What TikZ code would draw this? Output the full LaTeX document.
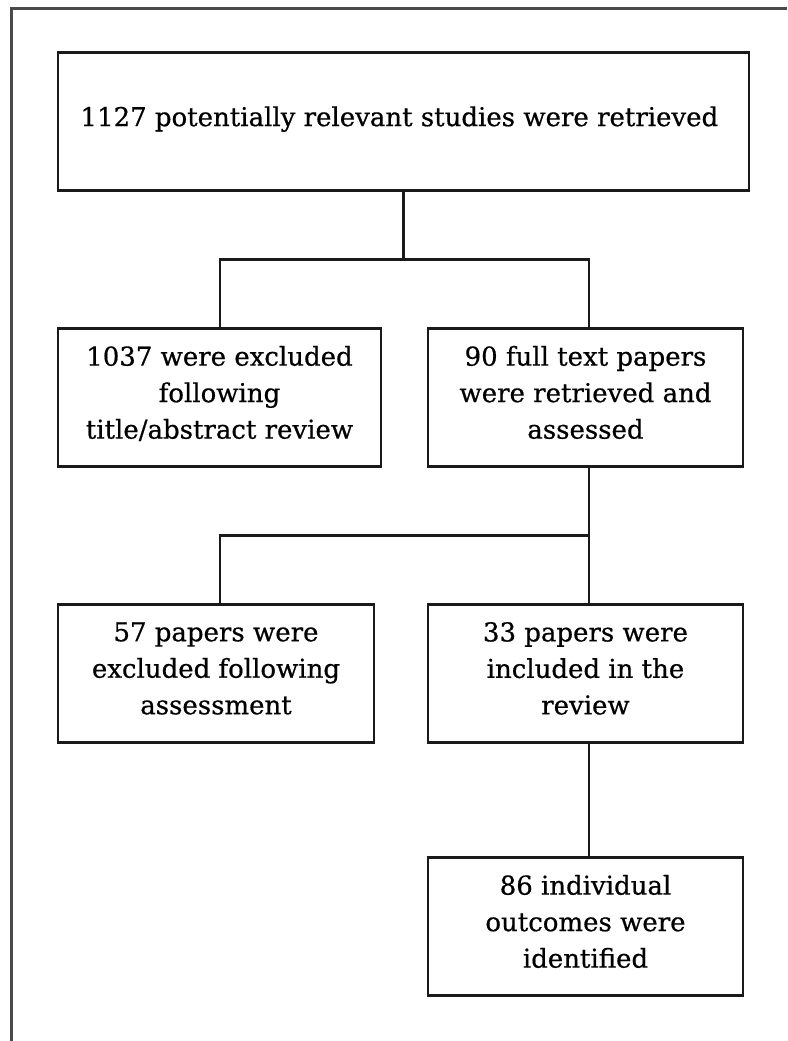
\documentclass[tikz,border=0pt]{standalone}
\usepackage{fontspec}
\setmainfont{DejaVu Serif}[UprightFeatures={FakeBold=0.6}]
\usepackage{xcolor}
\usetikzlibrary{positioning}
\definecolor{framegray}{HTML}{4A4A4A}
\definecolor{boxstroke}{HTML}{1A1A1A}
\tikzset{
  stage/.style={
    rectangle,
    draw=boxstroke,
    line width=2.4pt,
    outer sep=0pt,
    minimum height=138pt,
    inner sep=0pt,
    text depth=10.5pt,
    align=center,
    font=\fontsize{26pt}{36.5pt}\selectfont
  },
  link/.style={line width=2.4pt,draw=boxstroke},
  pageframe/.style={line width=3pt,draw=framegray}
}
\begin{document}
\begin{tikzpicture}
  \useasboundingbox (0,0) rectangle (787pt,-1041pt);
  \draw[pageframe] (11pt,-1041pt) -- (11pt,-9pt) -- (787pt,-9pt);

  \node[stage, minimum width=691pt] (retrieved) at (403.5pt,-121.5pt) {
    1127 potentially relevant studies were retrieved
  };

  \node[stage, minimum width=323pt, below=138pt of retrieved.south west, anchor=north west] (titleExcl) {
    1037 were excluded\\
    following\\
    title/abstract review
  };

  \node[stage, minimum width=315pt, right=47pt of titleExcl.north east, anchor=north west] (fullText) {
    90 full text papers\\
    were retrieved and\\
    assessed
  };

  \node[stage, minimum width=316pt, below=138pt of titleExcl.south west, anchor=north west] (assessExcl) {
    57 papers were\\
    excluded following\\
    assessment
  };

  \node[stage, minimum width=315pt, below=138pt of fullText] (included) {
    33 papers were\\
    included in the\\
    review
  };

  \node[stage, minimum width=315pt, below=115pt of included] (outcomes) {
    86 individual\\
    outcomes were\\
    identified
  };

  \draw[link] (retrieved.south) -- ++(0,-69pt) coordinate (forkA);
  \draw[link] ([xshift=0.5pt]titleExcl.north) |- (forkA) -| ([xshift=3.5pt]fullText.north);

  \path ([xshift=3.5pt]fullText.south) -- ([xshift=3.5pt]included.north) coordinate[pos=0.5] (forkB);
  \draw[link] ([xshift=3.5pt]fullText.south) -- ([xshift=3.5pt]included.north);
  \draw[link] ([xshift=4pt]assessExcl.north) |- (forkB);

  \draw[link] ([xshift=3.5pt]included.south) -- ([xshift=3.5pt]outcomes.north);
\end{tikzpicture}
\end{document}
